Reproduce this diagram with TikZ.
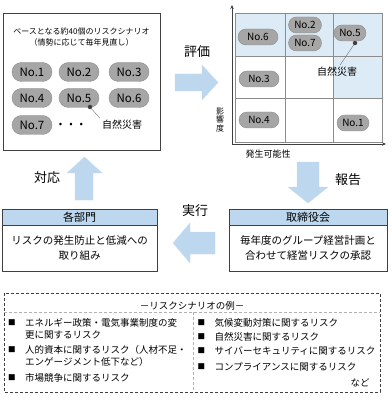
\documentclass[tikz,border=0pt]{standalone}
\usepackage{fontspec}
\setmainfont{Noto Sans CJK JP}
\usetikzlibrary{shapes.misc, arrows.meta}

\definecolor{blockblue}{HTML}{BDD7EE}
\definecolor{cellblue}{HTML}{DDEBF7}
\definecolor{pillgray}{HTML}{A6A6A6}
\definecolor{pilledge}{HTML}{8C8C8C}
\definecolor{framegray}{HTML}{404040}

\newcommand{\jpsize}[2]{\fontsize{#1}{#2}\selectfont}
\newcommand{\rbul}{\raisebox{1pt}{\jpsize{7.5}{12}■}\hspace{9.5pt}}
\newcommand{\rind}{\phantom{\rbul}}

\begin{document}
\begin{tikzpicture}[
  x=1pt, y=-1pt,
  pill/.style={rounded rectangle, draw=pilledge, fill=pillgray, minimum width=40pt,
               minimum height=19pt, inner sep=0pt, font=\jpsize{11.5}{13}},
  mpill/.style={pill, minimum height=16pt, font=\jpsize{10}{12}},
  dot/.style={circle, fill=black!75, inner sep=0pt, minimum size=4.5pt},
  note/.style={font=\jpsize{10}{12}, inner sep=2pt},
  lbl/.style={font=\jpsize{13}{15}},
  blockarrow/.style={fill=blockblue, draw=blockblue!85!white},
  headbox/.style={rectangle, draw=framegray, fill=blockblue, minimum height=16pt,
                  inner sep=0pt, font=\jpsize{11}{13}},
  bodybox/.style={rectangle, draw=framegray, minimum height=46pt, inner sep=0pt,
                  align=center, font=\jpsize{10.5}{15}},
  gridline/.style={draw=black!45, line width=0.6pt},
  axis/.style={draw=framegray, line width=0.8pt, -{Stealth[length=4pt, width=3.5pt]}},
  item/.style={anchor=north west, align=left, inner sep=0pt, font=\jpsize{9.5}{12}}
]
\useasboundingbox (0,0) rectangle (391,398);

%% ---- SCENARIO POOL (top left) ----
\node[draw=framegray, minimum width=157pt, minimum height=137pt, inner sep=0pt] (pool) at (81.5,81.5) {};
\node[font=\jpsize{8}{11}, align=center] (pooltitle) at (81.5,37.5)
  {ベースとなる約40個のリスクシナリオ\\（情勢に応じて毎年見直し）};
\node[pill] (p1) at (32,72)  {No.1};
\node[pill] (p2) at (79,72)  {No.2};
\node[pill] (p3) at (129,72) {No.3};
\node[pill] (p4) at (32,98)  {No.4};
\node[pill] (p5) at (79,98)  {No.5};
\node[pill] (p6) at (129,98) {No.6};
\node[pill] (p7) at (32,125) {No.7};
\node[font=\jpsize{10}{12}] (pdots) at (71,125) {•\hspace{7pt}•\hspace{7pt}•};
\node[dot] (pooldot) at (90,107) {};
\node[note] (poolnat) at (122,125) {自然災害};
\draw[black!55] (pooldot) -- (poolnat.north west);

%% ---- RISK MATRIX (top right) ----
\fill[cellblue] (235,13) rectangle (382,56);
\fill[cellblue] (333,56) rectangle (382,98);
\draw[gridline] (235,13) rectangle (382,142);
\foreach \gx in {285,333} \draw[gridline] (\gx,13) -- (\gx,142);
\foreach \gy in {56,98} \draw[gridline] (235,\gy) -- (382,\gy);

\coordinate (origin) at (232,144);
\coordinate (ytip)   at (232,5);
\coordinate (xtip)   at (386,144);
\draw[axis] (origin) -- (ytip);
\draw[axis] (origin) -- (xtip);
\node[font=\jpsize{8}{8.5}, align=center, inner sep=0pt] (ylab) at (220,120) {影\\響\\度};
\node[font=\jpsize{9}{11}] (xlab) at (268,154) {発生可能性};

\node[mpill] (m6) at (258,37) {No.6};
\node[mpill, minimum width=33pt] (m2) at (305,25) {No.2};
\node[mpill, minimum width=33pt] (m7) at (305,43) {No.7};
\node[mpill, minimum width=32pt] (m5) at (350,33) {No.5};
\node[mpill] (m3) at (259,79)  {No.3};
\node[mpill] (m4) at (259,120) {No.4};
\node[mpill, minimum width=32pt] (m1) at (353,123) {No.1};
\node[dot] (mxdot) at (355,43) {};
\node[note] (mxnat) at (337,72) {自然災害};
\draw[black!55] (mxdot) -- ([xshift=3pt]mxnat.north);

%% ---- Block arrows ----
\filldraw[blockarrow] (175,74) -- (202,74) -- (202,65) -- (218,82.5) -- (202,100)
  -- (202,91) -- (175,91) -- cycle;
\filldraw[blockarrow] (297,162) -- (319,162) -- (319,187) -- (328,187) -- (308,203)
  -- (288,187) -- (297,187) -- cycle;
\filldraw[blockarrow] (215,232) -- (190,232) -- (190,223) -- (173,243) -- (190,263)
  -- (190,254) -- (215,254) -- cycle;
\filldraw[blockarrow] (75,200) -- (75,173) -- (67,173) -- (84.5,157) -- (102,173)
  -- (93,173) -- (93,200) -- cycle;

\node[lbl] (eval)   at (197,52)  {評価};
\node[lbl] (report) at (348,180) {報告};
\node[lbl] (exec)   at (195,211) {実行};
\node[lbl] (respond) at (47,178) {対応};

%% ---- Board and departments ----
\node[headbox, minimum width=158pt] (boardhead) at (308,217) {取締役会};
\node[bodybox, minimum width=158pt, anchor=north] (boardbody) at (boardhead.south)
  {毎年度のグループ経営計画と\\合わせて経営リスクの承認};
\node[headbox, minimum width=155pt] (depthead) at (79.5,217) {各部門};
\node[bodybox, minimum width=155pt, anchor=north] (deptbody) at (depthead.south)
  {リスクの発生防止と低減への\\取り組み};

%% ---- Scenario examples (bottom) ----
\draw[framegray, dash pattern=on 3pt off 2pt] (4,293) rectangle (380,392);
\draw[black!30, dash pattern=on 3pt off 2pt] (4,312) -- (380,312);
\draw[black!30, dash pattern=on 3pt off 2pt] (193,312) -- (193,392);
\node[font=\jpsize{9.5}{12}] (extitle) at (192,306) {－リスクシナリオの例－};

\node[item] (l1) at (8,318) {\rbul エネルギー政策・電気事業制度の変\\\rind 更に関するリスク};
\node[item] (l2) at (8,345) {\rbul 人的資本に関するリスク（人材不足・\\\rind エンゲージメント低下など）};
\node[item] (l3) at (8,373) {\rbul 市場競争に関するリスク};
\node[item] (r1) at (197.5,318) {\rbul 気候変動対策に関するリスク};
\node[item] (r2) at (197.5,332) {\rbul 自然災害に関するリスク};
\node[item] (r3) at (197.5,347) {\rbul サイバーセキュリティに関するリスク};
\node[item] (r4) at (197.5,362) {\rbul コンプライアンスに関するリスク};
\node[font=\jpsize{9.5}{12}] (etc) at (360,383) {など};
\end{tikzpicture}
\end{document}
